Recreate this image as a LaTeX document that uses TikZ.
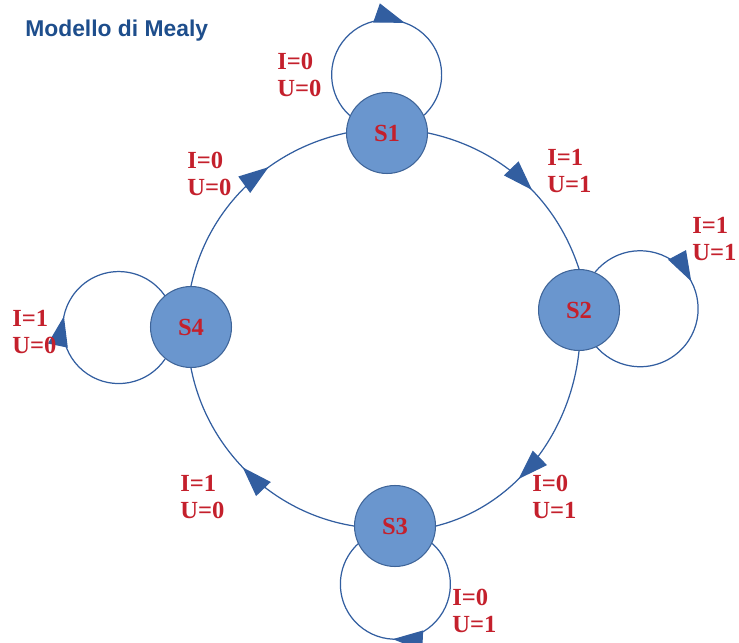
\documentclass[tikz,border=0pt]{standalone}
\usepackage{fontspec}
\setmainfont{Liberation Serif}
\setsansfont{Liberation Sans}
\usetikzlibrary{arrows.meta,decorations.markings,backgrounds}

\definecolor{mlyfill}{RGB}{106,150,206}
\definecolor{mlyedge}{RGB}{62,100,152}
\definecolor{mlyline}{RGB}{50,94,160}
\definecolor{mlyred}{RGB}{196,32,44}
\definecolor{mlytitle}{RGB}{30,78,140}

\tikzset{
  mlystate/.style={circle, draw=mlyedge, line width=0.6pt, fill=mlyfill, minimum size=1.62cm, inner sep=0pt, font=\fontsize{14}{16}\selectfont\bfseries, text=mlyred},
  mlylab/.style={anchor=west, inner sep=0pt, align=left, font=\fontsize{14}{15.4}\selectfont\bfseries, text=mlyred},
  mlyarr/.style={color=mlyline, line width=0.7pt, postaction={decorate}, decoration={markings, mark=at position #1 with {\arrow{Triangle[length=6mm, width=4mm]}}}},
  mlyarr/.default=0.55
}

\begin{document}
\begin{tikzpicture}[x=0.02cm,y=0.02cm]
  \useasboundingbox (0,0) rectangle (739,642);

  \node[anchor=west, inner sep=0pt, font=\sffamily\bfseries\fontsize{13}{15}\selectfont, text=mlytitle] (title) at (25,611) {Modello di Mealy};

  \node[mlystate] (s1) at (387,509) {S1};
  \node[mlystate] (s2) at (579,332) {S2};
  \node[mlystate] (s3) at (395,116) {S3};
  \node[mlystate] (s4) at (191,315) {S4};

  \begin{scope}[on background layer, looseness=0.93]
    \draw[mlyarr=0.565] (s1.east) to[out=-12, in=108] (s2.north);
    \draw[mlyarr=0.6] (s2.south) to[out=-96, in=14] (s3.east);
    \draw[mlyarr=0.53] (s3.west) to[out=171, in=-79] (s4.south);
    \draw[mlyarr=0.63] (s4.north) to[out=78, in=192] (s1.west);

    % self loops
    \draw[mlyarr=0.57] (s1.155) arc[start angle=228, end angle=-48, radius=55];
    \draw[mlyarr=0.4] (s2.67) arc[start angle=141, end angle=-141, radius=58];
    \draw[mlyarr=0.51] (s3.335) arc[start angle=48, end angle=-228, radius=55];
    \draw[mlyarr=0.54] (s4.231) arc[start angle=326, end angle=34, radius=56];
  \end{scope}

  \node[mlylab] (l1) at (277,567) {I=0\\U=0};
  \node[mlylab] (l12) at (547,471) {I=1\\U=1};
  \node[mlylab] (l2) at (692,403) {I=1\\U=1};
  \node[mlylab] (l23) at (532,145) {I=0\\U=1};
  \node[mlylab] (l3) at (452,31) {I=0\\U=1};
  \node[mlylab] (l34) at (180,145) {I=1\\U=0};
  \node[mlylab] (l4) at (12,310) {I=1\\U=0};
  \node[mlylab] (l41) at (187,468) {I=0\\U=0};
\end{tikzpicture}
\end{document}
